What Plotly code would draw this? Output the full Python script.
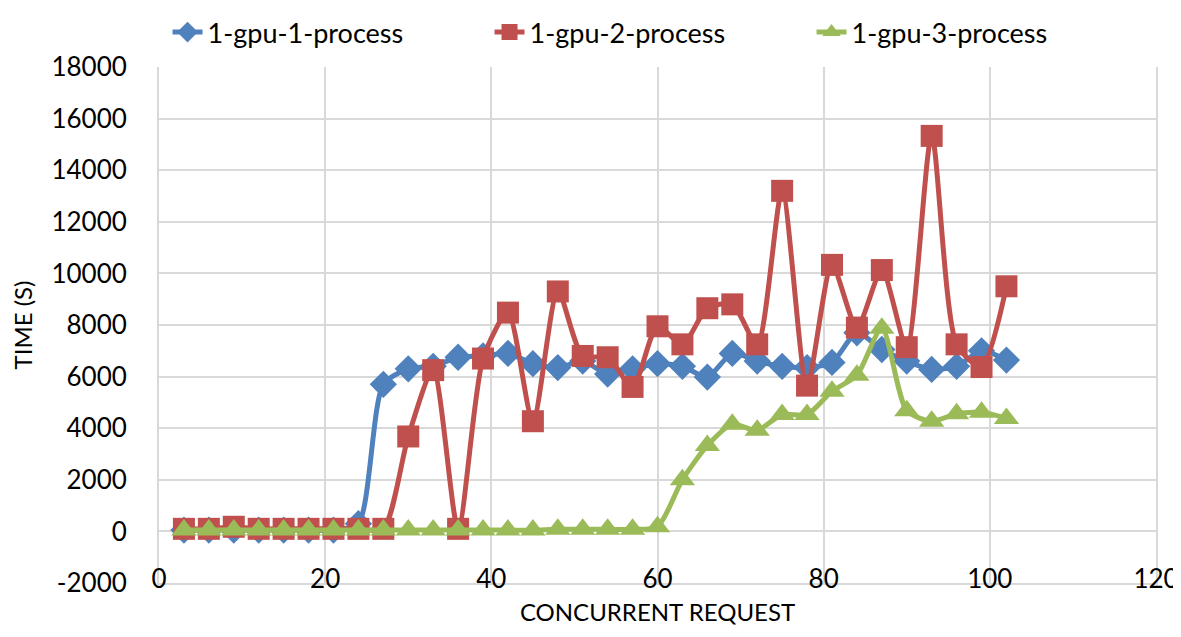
import plotly.graph_objects as go

# concurrent requests (x axis)
requests = [3, 6, 9, 12, 15, 18, 21, 24, 27, 30, 33, 36, 39, 42, 45, 48, 51,
            54, 57, 60, 63, 66, 69, 72, 75, 78, 81, 84, 87, 90, 93, 96, 99, 102]

gpu1_proc1 = [50, 50, 50, 50, 50, 50, 50, 300, 5700, 6300, 6400, 6750, 6800, 6900,
              6500, 6350, 6600, 6100, 6300, 6500, 6400, 5980, 6900, 6600, 6400,
              6350, 6550, 7700, 7050, 6600, 6280, 6400, 7000, 6640]
gpu1_proc2 = [100, 100, 180, 100, 100, 100, 100, 100, 100, 3680, 6250, 100, 6700, 8480,
              4270, 9300, 6800, 6750, 5600, 7950, 7250, 8650, 8800, 7250, 13200,
              5650, 10330, 7900, 10130, 7140, 15330, 7250, 6370, 9500]
gpu1_proc3 = [50, 50, 50, 50, 50, 50, 50, 50, 50, 50, 50, 50, 50, 50,
              50, 80, 80, 80, 80, 180, 2000, 3330, 4150, 3920, 4530,
              4530, 5430, 6050, 7870, 4680, 4270, 4560, 4620, 4380]

names = ['1-gpu-1-process', '1-gpu-2-process', '1-gpu-3-process']

# etiquetas de los ejes
y_ticks = [-2000, 0, 2000, 4000, 6000, 8000, 10000, 12000, 14000, 16000, 18000]
y_labels = ['-2000', '0', '2000', '4000', '6000', '8000', '10000', '12000',
            '14000', '16000', '18000']
x_ticks = [0, 20, 40, 60, 80, 100, 120]

colores = ['#4F81BD', '#C0504D', '#9BBB59']
simbolos = ['diamond', 'square', 'triangle-up']
tamanos = [21, 22, 22]

fig = go.Figure()
for serie, nombre, color, simbolo, tam in zip([gpu1_proc1, gpu1_proc2, gpu1_proc3],
                                              names, colores, simbolos, tamanos):
    fig.add_trace(go.Scatter(
        x=requests, y=serie, name=nombre,
        mode='lines+markers',
        line=dict(color=color, width=5, shape='spline', smoothing=0.7),
        marker=dict(symbol=simbolo, size=tam, color=color),
    ))

# traza vacia para que se dibuje el eje auxiliar de etiquetas x
fig.add_trace(go.Scatter(x=[], y=[], xaxis='x2', showlegend=False, hoverinfo='skip'))

grid = '#D9D9D9'
fuente = 'Lato, Carlito, Calibri, sans-serif'
fig.update_layout(
    width=1173, height=629,
    margin=dict(l=151, r=25, t=59, b=54, autoexpand=False),
    paper_bgcolor='white', plot_bgcolor='white',
    font=dict(family=fuente, size=26, color='black'),
    legend=dict(orientation='h', x=0.136, xref='container', xanchor='left',
                y=1.0, yref='container', yanchor='top', font=dict(size=27),
                entrywidth=277, entrywidthmode='pixels', traceorder='normal'),
    xaxis=dict(range=[0, 120], tickvals=x_ticks, showgrid=True, gridcolor=grid,
               gridwidth=2, zeroline=False, showline=True, linecolor=grid,
               linewidth=2, ticks='', showticklabels=False,
               title=dict(text='CONCURRENT REQUEST', font=dict(size=24), standoff=20)),
    # eje auxiliar solo para las etiquetas del eje x (dentro del area, como en Excel)
    xaxis2=dict(range=[0, 120], tickvals=x_ticks, overlaying='x', anchor='free',
                position=0.043, side='bottom', showgrid=False, zeroline=False,
                showline=False, ticks='', tickfont=dict(size=26)),
    yaxis=dict(range=[-2000, 18000], tickvals=y_ticks, ticktext=y_labels,
               showgrid=True, gridcolor=grid, gridwidth=2, zeroline=False,
               showline=True, linecolor=grid, linewidth=2, mirror=True, ticks='',
               tickfont=dict(size=26), ticklabelstandoff=25,
               title=dict(text='TIME (S)', font=dict(size=24), standoff=18)),
)

fig.write_html("out.html")
